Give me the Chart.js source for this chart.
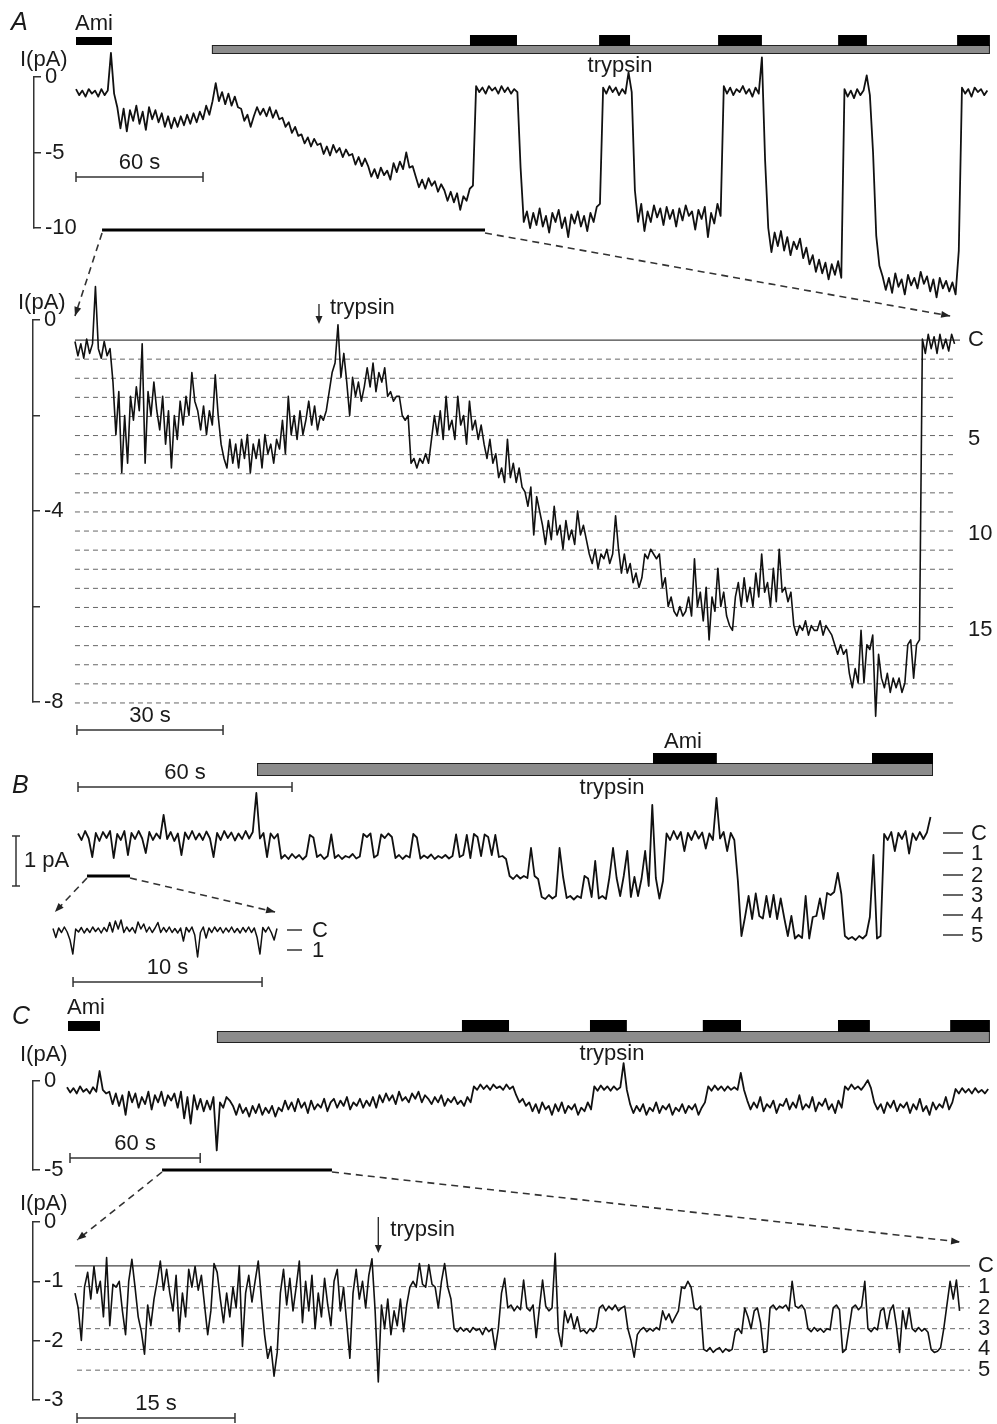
<!DOCTYPE html>
<html>
<head>
<meta charset="utf-8">
<script src="https://cdn.jsdelivr.net/npm/chart.js@4.4.1/dist/chart.umd.min.js"></script>
<style>
  html, body { margin: 0; padding: 0; background: #fff; }
  #page { position: relative; width: 997px; height: 1424px; overflow: hidden; background: #fff; }
  #page canvas { position: absolute; left: 0; top: 0; }
</style>
</head>
<body>
<div id="page">
  <canvas id="aTop" width="997" height="1424"></canvas>
  <canvas id="aZoom" width="997" height="1424"></canvas>
  <canvas id="bMain" width="997" height="1424"></canvas>
  <canvas id="bInset" width="997" height="1424"></canvas>
  <canvas id="cTop" width="997" height="1424"></canvas>
  <canvas id="cZoom" width="997" height="1424"></canvas>
</div>
<script>
// ---- data (current in pA, time in s) ----

// A: overview, sampled every 1.5 s
const aTopDt = 1.5;
const aTopI = [-0.8,-1.2,-0.9,-1.3,-0.8,-1.1,-0.9,-1.3,-0.8,-1.2,-0.9,1.6,-1.1,
  -2.0,-3.4,-2.1,-3.6,-2.2,-2.9,-1.9,-3.1,-2.3,-3.5,-2.0,-2.8,-2.2,-3.0,-2.4,-3.3,
  -2.6,-3.4,-2.7,-3.3,-2.6,-3.2,-2.5,-3.1,-2.4,-3.0,-2.3,
  -2.8,-1.9,-2.5,-1.6,-0.4,-1.6,
  -1.0,-1.8,-1.1,-1.9,-1.3,-2.0,-2.1,-2.9,-2.5,-3.3,
  -2.6,-2.0,-2.5,-2.1,-2.6,-2.0,-2.7,-2.2,-2.8,
  -2.7,-3.3,-3.0,-3.7,-3.3,-3.9,-3.8,-4.4,-4.0,-4.6,-4.1,-4.5,
  -4.4,-5.1,-4.6,-5.2,-4.5,-5.0,-4.7,-5.3,-4.8,-5.2,
  -5.1,-5.8,-5.3,-5.9,-5.4,-5.9,-6.6,-6.1,-6.7,-6.0,-6.5,-6.2,-6.8,
  -5.7,-6.3,-5.6,-6.1,-5.0,-6.0,-5.9,
  -6.6,-7.3,-6.8,-7.4,-6.7,-7.2,-6.9,-7.6,-7.1,
  -7.5,-8.2,-7.6,-8.3,-7.7,-8.8,-7.9,-8.2,-7.4,-7.2,
  -0.6,-1.0,-0.7,-1.1,-0.6,-0.9,-0.7,-1.1,-0.6,-1.0,-0.7,-1.1,-0.8,-1.0,
  -6.0,-9.6,
  -8.9,-10.0,-9.0,-9.8,-8.7,-9.9,-9.2,-10.3,-9.0,-9.6,-8.8,-10.0,-9.3,-10.6,-9.1,-9.7,-8.9,-9.9,-9.2,-10.2,-9.0,-9.6,-8.6,-8.4,
  -0.7,-1.1,-0.6,-1.0,-0.7,-1.2,-0.8,-1.1,0.3,-1.0,
  -7.5,
  -9.6,-8.4,-10.2,-8.9,-9.6,-8.5,-9.3,-8.7,-9.8,-8.6,-9.4,-8.8,-9.9,-8.7,-9.5,-8.5,-9.2,-8.9,-10.1,-8.8,-9.4,-8.6,-10.6,-9.0,-9.7,-8.4,-9.2,
  -0.6,-1.1,-0.7,-1.2,-0.8,-1.0,-0.6,-1.1,-0.8,-1.3,-0.7,-1.1,1.3,
  -5.5,
  -10.0,-11.6,-10.3,-11.2,-10.2,-11.5,-10.6,-11.8,-10.9,-11.4,-10.7,-12.0,-11.3,-12.4,-11.8,-12.9,-12.1,-13.0,-12.3,-13.4,-12.4,-13.1,-12.2,-13.3,
  -0.8,-1.3,-0.9,-1.4,-0.8,-1.2,-0.9,0.1,-1.2,
  -5.0,-10.5,-12.5,
  -13.2,-14.1,-13.3,-14.3,-13.0,-13.9,-13.4,-14.4,-13.1,-13.8,-13.3,-14.0,-12.9,-13.7,-13.2,-14.2,-13.4,-14.6,-13.3,-14.0,-13.5,-14.2,-13.6,-14.4,
  -11.5,
  -0.7,-1.1,-0.8,-1.3,-0.7,-1.0,-0.8,-1.2,-0.9];
const aTopAmi = [0, 17];
const aTopTrypsin = [64.2, 431.7];
const aTopAmiBars = [[186.1, 208.3], [247.1, 261.7], [303.3, 324.0], [360.0, 373.6], [416.2, 431.7]];
const aTopZoom = [12.3, 193.2];

// A: expanded segment, sampled every 0.6 s
const aZoomDt = 0.6;
const aZoomI = [-0.45,-0.75,-0.5,-0.8,-0.4,-0.7,-0.5,0.7,-0.6,-0.8,-0.45,-0.75,-0.6,
  -1.3,-2.4,-1.5,-3.2,-2.0,-3.0,-1.6,
  -2.1,-1.4,-1.9,-0.5,-3.0,-1.5,-2.0,-1.3,-1.9,
  -2.3,-1.6,-2.6,-1.9,-3.1,-2.0,-2.5,-1.7,-2.2,
  -1.6,-2.0,-1.1,-1.7,-1.9,
  -2.3,-1.8,-2.4,-1.9,-2.2,-1.15,-2.0,
  -2.6,-2.9,-3.1,-2.5,-3.0,
  -2.6,-3.1,-2.5,-2.9,-2.4,-3.2,-2.6,-2.9,-2.5,-3.1,-2.4,-2.8,-2.6,-3.0,-2.5,-2.7,
  -2.1,-2.8,-1.6,-2.4,
  -2.0,-2.5,-1.9,-2.4,-2.1,
  -1.7,-2.2,-1.8,-2.3,-2.0,
  -2.1,-1.9,-1.5,-1.1,
  -0.9,-0.1,-1.2,-0.7,-1.3,
  -2.0,-1.2,-1.6,-1.3,-1.7,-1.4,
  -1.0,-1.4,-0.9,-1.5,-1.1,-1.3,-1.0,
  -1.6,-1.5,-1.7,-1.6,-1.6,
  -2.0,-2.1,-2.0,
  -3.0,-2.9,-3.1,-2.9,-3.0,-2.8,-3.0,
  -2.5,
  -2.0,-2.4,-1.9,-2.5,-1.6,-2.3,-2.1,-2.5,-1.6,-2.2,-2.0,-2.6,-1.7,-2.3,-2.1,-2.5,-2.2,
  -2.6,-2.9,-2.5,-3.0,-2.8,-3.3,
  -3.1,-3.4,-2.5,-3.3,-3.0,-3.4,-3.1,-3.5,
  -3.6,-3.9,-3.5,-4.5,-3.7,-4.0,
  -4.3,-4.7,-4.2,-4.6,-3.9,-4.5,-4.3,-4.8,-4.2,-4.6,-4.4,-4.7,-4.0,-4.5,-4.3,-4.6,
  -4.9,-5.1,-4.8,-5.2,-4.9,-5.0,-4.8,-5.1,-4.9,-4.1,
  -4.8,-5.3,-4.9,-5.3,-5.1,-5.5,-5.3,-5.6,-5.4,
  -4.9,-5.0,-4.8,-4.9,-5.0,-4.9,
  -5.6,-5.4,-6.0,-5.8,
  -6.1,-6.2,-6.0,-6.2,-6.1,
  -5.8,-6.2,-5.0,-6.0,-5.7,-6.3,-5.6,-6.7,-5.8,-6.1,-5.2,-6.0,-5.7,-6.2,
  -6.4,-6.5,
  -5.8,-5.5,-6.0,-5.4,-5.9,-5.6,-6.0,-5.3,-5.8,-4.9,-5.7,-5.5,-6.0,-5.2,-5.9,-4.8,-5.7,-5.6,-5.9,-5.7,
  -6.4,-6.6,-6.4,-6.5,-6.3,-6.6,-6.4,-6.5,-6.5,-6.3,-6.6,-6.4,-6.5,-6.6,
  -6.8,-7.0,-6.8,-7.0,-6.9,
  -7.4,-7.7,-7.3,-7.6,-6.5,-7.6,
  -6.8,-6.9,-6.6,-8.3,-7.0,
  -7.5,-7.7,-7.4,-7.8,-7.5,-7.7,-7.5,-7.8,-7.6,
  -6.8,-6.7,-7.5,-6.8,-6.7,
  -0.4,-0.7,-0.3,-0.6,-0.35,-0.7,-0.3,-0.6,-0.4,-0.65,-0.3,-0.5];
const aZoomTrypsinAt = 50.1;
const aZoomClosed = -0.42;
const aZoomLevels = [-0.82,-1.22,-1.62,-2.02,-2.42,-2.82,-3.22,-3.62,-4.02,-4.42,
  -4.82,-5.22,-5.62,-6.02,-6.42,-6.82,-7.22,-7.62,-8.02];

// B: record relative to closed level, sampled every 1 s
const bDt = 1;
const bI = [0.05,-0.08,0.1,-0.05,-0.42,0.06,-0.1,0.08,-0.04,0.1,-0.44,0.04,-0.08,0.1,-0.38,0.06,-0.06,0.1,-0.05,-0.34,
  0.08,-0.08,0.05,-0.05,0.42,-0.06,0.08,-0.1,0.05,-0.38,0.07,-0.06,0.1,-0.07,0.05,-0.08,0.09,-0.05,-0.42,0.06,
  -0.08,0.1,-0.04,0.07,-0.09,0.05,-0.06,0.1,-0.05,0.08,0.86,-0.05,0.06,
  -0.42,0.05,-0.05,0.04,-0.45,-0.38,-0.46,-0.36,-0.44,-0.38,-0.47,-0.4,0.02,-0.03,-0.42,-0.37,-0.46,-0.4,0.03,
  -0.44,-0.38,-0.46,-0.4,-0.43,-0.36,-0.45,-0.41,0.04,-0.02,0.05,-0.43,-0.38,0.03,-0.04,0.05,-0.02,
  -0.44,-0.38,-0.46,-0.39,-0.43,0.04,-0.03,-0.45,-0.39,-0.44,-0.37,-0.46,-0.4,-0.44,-0.38,-0.45,-0.4,
  0.03,-0.42,-0.38,0.02,-0.44,0.04,-0.02,-0.4,0.03,-0.02,-0.38,0.02,-0.42,-0.4,-0.46,
  -0.8,-0.86,-0.78,-0.85,-0.8,-0.84,-0.24,-0.8,-0.86,
  -1.22,-1.26,-1.18,-1.25,-1.2,
  -0.24,-0.82,
  -1.24,-1.2,-1.27,-1.2,-1.24,
  -0.8,-0.85,
  -1.22,-0.5,-1.25,-1.2,-1.26,
  -0.82,-0.24,-0.84,-1.2,
  -0.8,-0.3,-1.22,-0.82,-1.2,-0.85,-0.3,
  -1.0,0.62,-0.84,-1.25,-0.9,
  0.05,-0.08,0.1,-0.06,0.08,-0.3,0.06,-0.08,0.1,-0.05,0.07,-0.25,0.05,-0.08,0.76,-0.05,0.08,-0.3,0.06,-0.08,
  -0.9,-2.0,
  -1.62,-1.2,-1.66,-1.15,-1.6,-1.65,-1.2,-1.62,-1.18,-1.66,-1.25,
  -1.64,-2.0,-1.6,-2.05,-1.98,
  -2.04,-1.2,-2.05,-1.62,
  -1.6,-1.25,-1.66,-1.14,
  -1.18,-1.12,-0.74,-1.16,
  -2.0,-2.06,-2.02,-2.08,-2.0,-2.05,-1.98,
  -1.62,-0.38,-2.05,-2.0,
  0.04,-0.08,0.08,-0.3,0.06,-0.06,0.1,-0.35,0.05,-0.08,0.08,-0.06,0.07,0.38];
const bTrypsin = [50.2, 239.7];
const bAmiBars = [[161.2, 179.1], [222.6, 239.7]];
const bZoom = [2.52, 14.58];
const bLevels = [0.06, -0.34, -0.78, -1.18, -1.58, -1.98];
const bLevelNames = ['C', '1', '2', '3', '4', '5'];

// B: inset, sampled every 0.15 s
const bInsetDt = 0.15;
const bInsetI = [0.03,-0.15,0.04,-0.05,0.06,-0.04,-0.2,-0.48,0.02,-0.04,0.05,-0.06,0.03,-0.05,0.06,-0.03,0.04,-0.06,0.05,-0.03,
  0.15,-0.04,0.18,0.02,0.2,-0.05,0.06,-0.03,0.05,-0.06,0.16,0.02,0.12,-0.04,0.06,-0.05,0.04,0.15,-0.05,0.05,
  -0.04,0.06,-0.05,0.03,-0.06,0.04,-0.22,0.05,-0.04,0.06,-0.1,-0.54,-0.05,0.06,-0.16,0.04,-0.05,0.06,-0.03,0.05,
  -0.06,0.04,-0.04,0.06,-0.05,0.03,-0.06,0.05,-0.04,0.06,-0.05,0.04,-0.15,-0.48,0.05,-0.04,0.06,-0.05,-0.2,0.03];
const bInsetLevels = [0, -0.4];

// C: overview, sampled every 1.5 s
const cTopDt = 1.5;
const cTopI = [-0.35,-0.65,-0.4,-0.7,-0.3,-0.6,-0.45,-0.7,-0.35,-0.6,0.56,-0.5,-0.7,
  -0.6,-1.3,-0.7,-1.4,-0.8,-1.9,-0.6,-1.2,-0.7,-1.5,-0.9,-1.3,-0.6,-1.6,-0.8,-1.2,-0.6,-1.4,-0.8,-1.1,-0.7,-1.5,-0.6,-2.1,-0.9,-2.4,-0.8,-1.6,
  -1.0,-1.7,-1.1,-1.6,-0.9,-3.9,-1.2,-1.5,-0.9,-1.1,
  -1.4,-1.9,-1.3,-1.8,-1.5,-2.0,-1.4,-1.8,-1.3,-1.9,-1.5,-1.8,-1.4,-2.0,-1.5,-1.7,
  -1.1,-1.6,-1.2,-1.7,-1.0,-1.5,-1.2,-1.8,-1.1,-1.6,-1.3,-1.5,-1.0,-1.7,-1.2,
  -1.0,-1.5,-1.1,-1.4,-0.9,-1.6,-1.2,-1.4,-1.0,-1.5,-1.1,-1.4,-0.9,-1.5,
  -0.8,-1.2,-0.7,-1.1,-0.8,-1.3,-0.6,-1.1,-0.9,-1.2,-0.7,-1.0,-0.6,-1.2,-0.8,
  -1.0,-1.3,-0.9,-1.2,-0.8,-1.4,-1.0,-1.2,-0.9,-1.3,-1.1,-1.4,-0.9,-1.2,
  -0.3,-0.5,-0.2,-0.45,-0.25,-0.5,-0.2,-0.4,-0.3,-0.5,-0.2,-0.45,-0.3,
  -0.8,-1.2,-1.0,-1.4,
  -1.2,-1.7,-1.3,-1.8,-1.2,-1.6,-1.4,-1.9,-1.3,-1.7,-1.2,-1.8,-1.4,-1.6,-1.3,-1.9,-1.5,-1.7,-1.2,-1.6,
  -0.3,-0.55,-0.25,-0.5,-0.3,-0.55,-0.3,-0.5,-0.35,1.0,-0.5,
  -1.3,-1.8,-1.4,-1.7,-1.3,-1.9,-1.5,-1.7,-1.2,-1.8,-1.4,-1.6,-1.3,-1.9,-1.5,-1.7,-1.3,-1.8,-1.4,-1.6,-1.3,-1.9,-1.5,-1.2,
  -0.3,-0.55,-0.25,-0.5,-0.3,-0.55,-0.3,-0.5,-0.35,-0.5,0.45,-0.5,
  -1.1,-1.6,-1.2,-1.5,-0.9,-1.7,-1.3,-1.5,-1.1,-1.8,-1.3,-1.4,-1.0,-1.6,-1.2,-1.5,-0.8,-1.6,-1.3,-1.5,-0.9,-1.7,-1.2,-1.4,-1.0,-1.6,-1.3,-1.8,-1.1,-1.5,
  -0.3,-0.5,-0.2,-0.45,-0.3,-0.5,-0.25,0.05,-0.4,
  -1.2,-1.6,-1.3,-1.8,-1.2,-1.5,-1.1,-1.7,-1.3,-1.5,-1.2,-1.8,-1.3,-1.6,-1.0,-1.7,-1.4,-1.9,-1.2,-1.6,-1.3,-1.5,-0.9,-1.6,-1.2,
  -0.45,-0.7,-0.4,-0.65,-0.45,-0.7,-0.4,-0.65,-0.5,-0.7,-0.45];
const cTopAmi = [0.46, 15.2];
const cTopTrypsin = [69.1, 425.3];
const cTopAmiBars = [[182.0, 203.7], [241.0, 258.0], [293.0, 310.6], [355.3, 370.0], [407.0, 425.3]];
const cTopZoom = [43.8, 122.1];

// C: expanded segment, sampled every 0.3 s
const cZoomDt = 0.3;
const cZoomI = [-1.2,-1.45,-2.0,-1.1,-0.85,-1.3,-0.75,-1.2,-1.0,-1.6,-0.6,-1.75,-1.05,-1.1,-1.0,-1.5,-1.9,-1.0,-0.63,-1.1,
  -1.6,-1.85,-2.23,-1.4,-1.75,-1.3,-1.0,-0.66,-1.15,-0.8,-1.2,-1.5,-0.9,-1.85,-1.2,-1.6,-0.8,-1.1,-0.75,-1.15,
  -0.9,-1.4,-1.9,-1.5,-0.7,-0.85,-1.3,-1.7,-1.2,-1.6,-1.1,-1.45,-0.74,-2.1,-1.2,-0.9,-1.35,-1.0,-0.66,-1.3,
  -1.9,-2.3,-2.1,-2.6,-2.2,-1.2,-0.8,-1.4,-0.95,-1.5,-1.1,-0.66,-1.7,-1.0,-1.5,-0.9,-1.8,-1.2,-1.6,-0.95,
  -1.4,-1.75,-1.0,-0.8,-1.5,-1.1,-1.7,-2.3,-1.2,-0.8,-1.3,-1.0,-1.45,-0.9,-0.62,-1.5,-2.7,-1.4,-1.8,-1.3,
  -1.9,-1.5,-1.75,-1.3,-1.85,-1.4,-1.1,-1.0,-1.1,-0.7,-1.05,-1.1,-0.72,-1.05,-1.1,-1.45,-1.0,-0.7,-1.1,-1.3,
  -1.8,-1.85,-1.78,-1.84,-1.8,-1.86,-1.78,-1.83,-1.8,-1.9,-1.78,-1.85,-1.8,-2.15,-1.8,-1.2,-0.95,-1.45,-1.4,-1.5,
  -1.42,-1.48,-0.98,-1.45,-1.5,-1.4,-1.95,-1.45,-0.98,-1.42,-1.5,-1.45,-0.53,-1.85,-2.1,-1.5,-1.7,-1.55,-1.8,-1.6,
  -1.85,-1.82,-1.88,-1.8,-1.85,-1.78,-1.45,-1.4,-1.5,-1.42,-1.48,-1.4,-1.5,-1.45,-1.42,-1.8,-2.0,-2.28,-1.9,-1.82,
  -1.78,-1.85,-1.8,-1.84,-1.78,-1.82,-1.5,-1.65,-1.55,-1.7,-1.6,-1.5,-1.1,-1.12,-1.0,-1.1,-1.45,-1.48,-1.42,-2.15,
  -2.18,-2.12,-2.2,-2.15,-2.12,-2.2,-2.14,-2.18,-2.15,-1.85,-1.8,-1.88,-1.45,-1.6,-1.8,-1.5,-1.45,-1.7,-2.2,-2.18,
  -1.45,-1.4,-1.48,-1.42,-1.45,-1.4,-1.5,-1.0,-1.42,-1.45,-1.4,-1.48,-1.8,-1.85,-1.78,-1.84,-1.8,-1.86,-1.8,-1.82,
  -1.45,-1.4,-1.48,-2.2,-2.15,-1.8,-1.45,-1.4,-1.48,-1.42,-1.0,-1.8,-1.85,-1.78,-1.82,-1.5,-1.45,-1.8,-1.5,-1.4,
  -1.75,-2.2,-1.5,-1.8,-1.45,-1.8,-1.85,-1.78,-1.84,-1.8,-1.86,-2.15,-2.2,-2.18,-2.12,-1.8,-1.4,-1.0,-1.3,-0.98,-1.5];
const cZoomTrypsinAt = 28.8;
const cZoomLevels = [-0.74, -1.09, -1.45, -1.8, -2.15, -2.5];
const cZoomLevelNames = ['C', '1', '2', '3', '4', '5'];

// ---- drawing helpers ----
const W = 997, H = 1424;
const FONT = '"Liberation Sans", Arial, Helvetica, sans-serif';
const INK = '#1a1a1a';
Chart.defaults.font.family = FONT;

function txt(ctx, s, x, y, align, size, style) {
  ctx.save();
  ctx.font = (style ? style + ' ' : '') + (size || 22) + 'px ' + FONT;
  ctx.fillStyle = INK;
  ctx.textAlign = align || 'center';
  ctx.textBaseline = 'middle';
  ctx.fillText(s, x, y);
  ctx.restore();
}
function box(ctx, x1, x2, y1, y2, fill, stroke) {
  ctx.save();
  ctx.fillStyle = fill;
  ctx.fillRect(x1, y1, x2 - x1, y2 - y1);
  if (stroke) { ctx.strokeStyle = stroke; ctx.lineWidth = 1; ctx.strokeRect(x1 + 0.5, y1 + 0.5, x2 - x1 - 1, y2 - y1 - 1); }
  ctx.restore();
}
function line(ctx, x1, y1, x2, y2, w, color, dash) {
  ctx.save();
  ctx.strokeStyle = color || '#333';
  ctx.lineWidth = w || 1.5;
  ctx.setLineDash(dash || []);
  ctx.beginPath(); ctx.moveTo(x1, y1); ctx.lineTo(x2, y2); ctx.stroke();
  ctx.restore();
}
function scaleBar(ctx, x1, x2, y, label) {
  line(ctx, x1, y, x2, y, 1.5);
  line(ctx, x1, y - 5, x1, y + 5, 1.5);
  line(ctx, x2, y - 5, x2, y + 5, 1.5);
  txt(ctx, label, (x1 + x2) / 2, y - 14);
}
function arrowHead(ctx, x1, y1, x2, y2, len) {
  const a = Math.atan2(y2 - y1, x2 - x1), L = len || 8;
  ctx.save();
  ctx.fillStyle = '#222';
  ctx.beginPath();
  ctx.moveTo(x2, y2);
  ctx.lineTo(x2 - L * Math.cos(a) + 3.5 * Math.sin(a), y2 - L * Math.sin(a) - 3.5 * Math.cos(a));
  ctx.lineTo(x2 - L * Math.cos(a) - 3.5 * Math.sin(a), y2 - L * Math.sin(a) + 3.5 * Math.cos(a));
  ctx.closePath(); ctx.fill();
  ctx.restore();
}
function dashArrow(ctx, x1, y1, x2, y2) {
  line(ctx, x1, y1, x2, y2, 1.6, '#333', [7, 5]);
  arrowHead(ctx, x1, y1, x2, y2, 9);
}
function solutions(ctx, xs, ami, trypsin, amiBars, yAmi, yTop, yMid, yBot) {
  if (ami) box(ctx, xs.getPixelForValue(ami[0]), xs.getPixelForValue(ami[1]), yAmi, yMid, '#000');
  box(ctx, xs.getPixelForValue(trypsin[0]), xs.getPixelForValue(trypsin[1]), yMid, yBot, '#8c8c8c', '#222');
  amiBars.forEach(b => box(ctx, xs.getPixelForValue(b[0]), xs.getPixelForValue(b[1]), yTop, yMid + 1, '#000'));
}

function yAxis(min, max, step, show) {
  return {
    min: min, max: max, position: 'left',
    afterFit: s => { s.width = 0; },
    border: { display: true, color: '#333', width: 1.5 },
    grid: { display: true, drawOnChartArea: false, drawTicks: true, tickLength: -7, color: '#333', lineWidth: 1.5 },
    ticks: { stepSize: step, mirror: true, padding: 11, color: INK, font: { size: 22, family: FONT },
      callback: v => (show(v) ? String(v) : '') }
  };
}
const hiddenY = (min, max) => ({ display: false, min: min, max: max });

function traceChart(id, values, dt, area, xr, yScale, hooks, width) {
  return new Chart(document.getElementById(id), {
    type: 'line',
    data: { datasets: [{ data: values.map((v, i) => ({ x: i * dt, y: v })), borderColor: '#111',
      borderWidth: width || 1.8, borderJoinStyle: 'round', pointRadius: 0, tension: 0, clip: false }] },
    options: {
      responsive: false, animation: false, devicePixelRatio: 1, events: [],
      layout: { padding: { left: area[0], top: area[1], right: W - area[2], bottom: H - area[3] } },
      plugins: { legend: { display: false }, tooltip: { enabled: false } },
      scales: { x: { type: 'linear', display: false, min: xr[0], max: xr[1] }, y: yScale }
    },
    plugins: [{ id: 'deco',
      beforeDatasetsDraw: c => { if (hooks.under) hooks.under(c); },
      afterDraw: c => { if (hooks.over) hooks.over(c); } }]
  });
}

// ---- panel A ----
const aTop = traceChart('aTop', aTopI, aTopDt, [34, 77, 990, 228], [-19.84, 431.74],
  yAxis(-10, 0, 5, () => true), {
  over: c => {
    const ctx = c.ctx, xs = c.scales.x, px = t => xs.getPixelForValue(t);
    txt(ctx, 'A', 11, 23, 'left', 25, 'italic');
    txt(ctx, 'Ami', px((aTopAmi[0] + aTopAmi[1]) / 2), 24);
    solutions(ctx, xs, aTopAmi, aTopTrypsin, aTopAmiBars, 37, 35, 45, 54);
    txt(ctx, 'trypsin', 620, 66);
    txt(ctx, 'I(pA)', 20, 60, 'left');
    scaleBar(ctx, px(0), px(60), 177, '60 s');
    line(ctx, px(aTopZoom[0]), 230, px(aTopZoom[1]), 230, 3.2, '#000');
  }
});

const aZoom = traceChart('aZoom', aZoomI, aZoomDt, [33, 320, 960, 702], [-8.62, 181.72],
  yAxis(-8, 0, 2, v => v % 4 === 0), {
  under: c => {
    const ctx = c.ctx, xs = c.scales.x, ys = c.scales.y;
    const x1 = xs.getPixelForValue(0), x2 = xs.getPixelForValue(181.1);
    aZoomLevels.forEach(v => line(ctx, x1, ys.getPixelForValue(v), x2, ys.getPixelForValue(v), 1, '#666', [5, 4]));
    line(ctx, x1, ys.getPixelForValue(aZoomClosed), x2 + 3, ys.getPixelForValue(aZoomClosed), 1.3, '#444');
  },
  over: c => {
    const ctx = c.ctx, xs = c.scales.x, ys = c.scales.y, px = t => xs.getPixelForValue(t);
    const tx = aTop.scales.x;
    txt(ctx, 'I(pA)', 18, 303, 'left');
    dashArrow(ctx, tx.getPixelForValue(aTopZoom[0]), 233, px(0), 316);
    dashArrow(ctx, tx.getPixelForValue(aTopZoom[1]), 233, px(179.7), 316);
    txt(ctx, 'C', 968, ys.getPixelForValue(aZoomClosed), 'left');
    [[4, '5'], [9, '10'], [14, '15']].forEach(p => txt(ctx, p[1], 968, ys.getPixelForValue(aZoomLevels[p[0]]) + 3, 'left'));
    const ax = px(aZoomTrypsinAt);
    line(ctx, ax, 304, ax, 318, 1.3, '#222');
    arrowHead(ctx, ax, 304, ax, 324, 8);
    txt(ctx, 'trypsin', ax + 11, 308, 'left');
    scaleBar(ctx, px(0.4), px(30.4), 730, '30 s');
  }
}, 1.6);

// ---- panel B ----
const bMain = traceChart('bMain', bI, bDt, [78, 836, 933, 886], [0, 239.7], hiddenY(-1, 0), {
  over: c => {
    const ctx = c.ctx, xs = c.scales.x, ys = c.scales.y, px = t => xs.getPixelForValue(t);
    txt(ctx, 'B', 12, 786, 'left', 25, 'italic');
    solutions(ctx, xs, null, bTrypsin, bAmiBars, 0, 753, 763, 776);
    txt(ctx, 'Ami', px((bAmiBars[0][0] + bAmiBars[0][1]) / 2) - 2, 742);
    txt(ctx, 'trypsin', 612, 788);
    scaleBar(ctx, px(0), px(60), 787, '60 s');
    const y0 = ys.getPixelForValue(0), y1 = ys.getPixelForValue(-1);
    line(ctx, 16, y0, 16, y1, 1.5);
    line(ctx, 12, y0, 20, y0, 1.5);
    line(ctx, 12, y1, 20, y1, 1.5);
    txt(ctx, '1 pA', 24, 861, 'left');
    bLevels.forEach((v, i) => {
      const y = ys.getPixelForValue(v);
      line(ctx, 943, y, 963, y, 1.5);
      txt(ctx, bLevelNames[i], 971, y + 1, 'left');
    });
    line(ctx, px(bZoom[0]), 876, px(bZoom[1]), 876, 3.2, '#000');
  }
});

const bInset = traceChart('bInset', bInsetI, bInsetDt, [53, 930, 280, 980], [0, 12.01], hiddenY(-1, 0), {
  over: c => {
    const ctx = c.ctx, xs = c.scales.x, ys = c.scales.y, px = t => xs.getPixelForValue(t);
    const bx = bMain.scales.x;
    dashArrow(ctx, bx.getPixelForValue(bZoom[0]), 878, px(0.1), 912);
    dashArrow(ctx, bx.getPixelForValue(bZoom[1]), 878, px(11.75), 912);
    bInsetLevels.forEach((v, i) => {
      const y = ys.getPixelForValue(v);
      line(ctx, 287, y, 302, y, 1.5);
      txt(ctx, bLevelNames[i], 312, y + 1, 'left');
    });
    scaleBar(ctx, px(1.06), px(11.06), 982, '10 s');
  }
}, 1.5);

// ---- panel C ----
const cTop = traceChart('cTop', cTopI, cTopDt, [33, 1081, 990, 1170], [-15.67, 425.35],
  yAxis(-5, 0, 5, () => true), {
  over: c => {
    const ctx = c.ctx, xs = c.scales.x, px = t => xs.getPixelForValue(t);
    txt(ctx, 'C', 12, 1017, 'left', 25, 'italic');
    txt(ctx, 'Ami', px((cTopAmi[0] + cTopAmi[1]) / 2) + 2, 1008);
    solutions(ctx, xs, cTopAmi, cTopTrypsin, cTopAmiBars, 1021, 1020, 1031, 1043);
    txt(ctx, 'trypsin', 612, 1054);
    txt(ctx, 'I(pA)', 20, 1055, 'left');
    scaleBar(ctx, px(1.38), px(61.38), 1158, '60 s');
    line(ctx, px(cTopZoom[0]), 1170, px(cTopZoom[1]), 1170, 3.2, '#000');
  }
});

const cZoom = traceChart('cZoom', cZoomI, cZoomDt, [33, 1222, 970, 1417], [-3.99, 84.99],
  yAxis(-3, 0, 1, () => true), {
  under: c => {
    const ctx = c.ctx, xs = c.scales.x, ys = c.scales.y;
    const x1 = xs.getPixelForValue(0.19), x2 = xs.getPixelForValue(84.99);
    cZoomLevels.forEach((v, i) => line(ctx, i ? x1 : xs.getPixelForValue(0), ys.getPixelForValue(v), x2, ys.getPixelForValue(v),
      i ? 1 : 1.3, i ? '#666' : '#444', i ? [5, 4] : []));
  },
  over: c => {
    const ctx = c.ctx, xs = c.scales.x, ys = c.scales.y, px = t => xs.getPixelForValue(t);
    const tx = cTop.scales.x;
    txt(ctx, 'I(pA)', 20, 1204, 'left');
    dashArrow(ctx, tx.getPixelForValue(cTopZoom[0]), 1172, px(0.2), 1240);
    dashArrow(ctx, tx.getPixelForValue(cTopZoom[1]), 1172, px(84.05), 1242);
    cZoomLevels.forEach((v, i) => txt(ctx, cZoomLevelNames[i], 978, ys.getPixelForValue(v), 'left'));
    const ax = px(cZoomTrypsinAt);
    line(ctx, ax, 1217, ax, 1246, 1.3, '#222');
    arrowHead(ctx, ax, 1217, ax, 1253, 8);
    txt(ctx, 'trypsin', ax + 12, 1230, 'left');
    scaleBar(ctx, px(0.19), px(15.19), 1418, '15 s');
  }
}, 1.6);
</script>
</body>
</html>
